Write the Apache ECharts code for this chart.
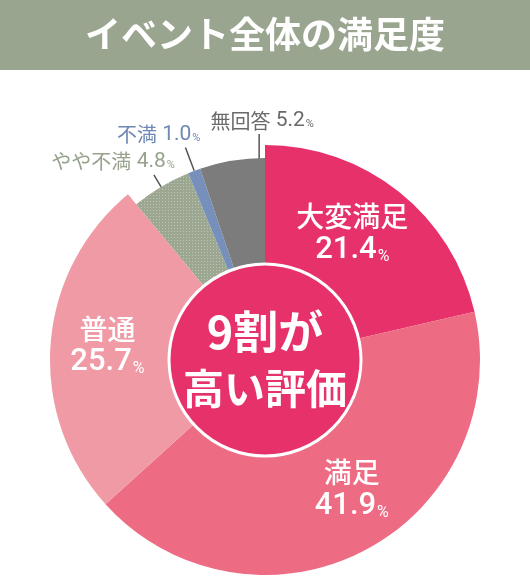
<!DOCTYPE html>
<html><head><meta charset="utf-8">
<script src="https://cdn.jsdelivr.net/npm/echarts@6/dist/echarts.min.js"></script>
<style>html,body{margin:0;padding:0;background:#fff}#c{width:530px;height:580px}</style>
</head><body><div id="c"></div>
<script>
var titleText = 'イベント全体の満足度';
var categories = ['大変満足', '満足', '普通', 'やや不満', '不満', '無回答'];
var values = [21.4, 41.9, 25.7, 4.8, 1.0, 5.2];
var bigSlices = ['大変満足', '満足', '普通'];
var centerLines = ['9割が', '高い評価'];

var colors = {'大変満足':'#e6316a','満足':'#ed6b83','普通':'#f09aa5','やや不満':'#9ca791','不満':'#7690bb','無回答':'#7c7c7c'};
var labelColors = {'やや不満':'#97a28c','不満':'#6f88b4','無回答':'#6a6a6a'};
var innerShift = {'大変満足':[-8,-7],'満足':[16,-6],'普通':[-5,-3]};
var outerCfg = {
  'やや不満':{len:14, shift:0, align:'right', tx:21},
  '不満':{len:25, shift:0, align:'right', tx:15},
  '無回答':{len:27, shift:27, align:'center', tx:3}
};
var JP = '"Noto Sans CJK JP", sans-serif';
var NUM = 'Roboto, "Noto Sans", sans-serif';
var CENTER = [265, 360];

function isBig(n){ return bigSlices.indexOf(n) >= 0; }

var dataA = categories.map(function(n, i){
  var big = isBig(n);
  return {name:n, value:values[i], itemStyle:{color: big ? colors[n] : 'rgba(0,0,0,0)'}, label:{show:big}};
});
var dataB = categories.map(function(n, i){
  var big = isBig(n);
  var it = {name:n, value:values[i], itemStyle:{color: big ? 'rgba(0,0,0,0)' : colors[n]}, label:{show:!big}, labelLine:{show:!big}};
  if (!big) {
    it.label.color = labelColors[n];
    it.labelLine.length = outerCfg[n].len;
  }
  if (n === 'やや不満') {
    it.itemStyle.decal = {symbol:'rect', symbolSize:1, dashArrayX:[1,2], dashArrayY:[1,2], color:'rgba(255,255,255,0.35)'};
  }
  return it;
});

var chart = echarts.init(document.getElementById('c'), null, {renderer:'canvas'});
chart.setOption({
  animation:false,
  backgroundColor:'#fff',
  graphic:[{type:'rect', shape:{x:0, y:0, width:530, height:70}, style:{fill:'#9aa590'}, z:-10, silent:true}],
  title:{text:titleText, left:'center', top:12, padding:0,
    textStyle:{color:'#fff', fontSize:36, fontWeight:'bold', fontFamily:JP, lineHeight:44}},
  series:[
    {
      type:'pie', center:CENTER, radius:[85, 215], startAngle:90, clockwise:true,
      silent:true, emphasis:{disabled:true}, avoidLabelOverlap:false,
      label:{position:'inside', color:'#fff',
        formatter:function(p){ return '{n|' + p.name + '}\n{v|' + p.value.toFixed(1) + '}{p|%}'; },
        rich:{
          n:{fontSize:28, fontFamily:JP, fontWeight:500, color:'#fff', lineHeight:33, align:'center'},
          v:{fontSize:31, fontFamily:NUM, fontWeight:500, color:'#fff', lineHeight:34},
          p:{fontSize:16, fontFamily:NUM, color:'#fff', lineHeight:34, verticalAlign:'bottom', padding:[0,0,2,1]}
        }},
      labelLine:{show:false},
      labelLayout:function(p){
        var s = innerShift[categories[p.dataIndex]];
        return s ? {dx:s[0], dy:s[1]} : {};
      },
      data:dataA
    },
    {
      type:'pie', center:CENTER, radius:[85, 202], startAngle:90, clockwise:true,
      silent:true, emphasis:{disabled:true}, avoidLabelOverlap:false,
      label:{position:'outside',
        formatter:function(p){ return '{n|' + p.name + '} {v|' + p.value.toFixed(1) + '}{p|%}'; },
        rich:{
          n:{fontSize:20, fontFamily:JP, lineHeight:24},
          v:{fontSize:21, fontFamily:NUM, lineHeight:24, padding:[0,0,0,2]},
          p:{fontSize:11, fontFamily:NUM, lineHeight:24, verticalAlign:'bottom', padding:[0,0,3,1]}
        }},
      labelLine:{length:25, length2:0, smooth:false, lineStyle:{color:'#555', width:1.5}},
      labelLayout:function(p){
        var n = categories[p.dataIndex];
        var c = outerCfg[n];
        if (!c || !p.labelLinePoints) return {};
        var pts = p.labelLinePoints;
        var a = [pts[0][0] + c.shift, pts[0][1]];
        var b = [pts[1][0] + c.shift, pts[1][1]];
        if (c.shift) { b[0] = a[0]; }
        return {x:b[0] + c.tx, y:b[1] - 1, align:c.align, verticalAlign:'bottom', labelLinePoints:[a, b, b]};
      },
      data:dataB
    },
    {
      type:'pie', center:CENTER, radius:[0, 96], silent:true, emphasis:{disabled:true},
      itemStyle:{color:'#e6316a', borderColor:'#fff', borderWidth:3},
      label:{position:'center', formatter:'{a|' + centerLines[0] + '}\n{b|' + centerLines[1] + '}',
        rich:{
          a:{fontSize:45, fontWeight:'bold', fontFamily:JP, color:'#fff', lineHeight:57},
          b:{fontSize:41, fontWeight:'bold', fontFamily:JP, color:'#fff', lineHeight:57}
        }},
      labelLine:{show:false},
      data:[{name:'center', value:1}]
    }
  ]
});
</script></body></html>
